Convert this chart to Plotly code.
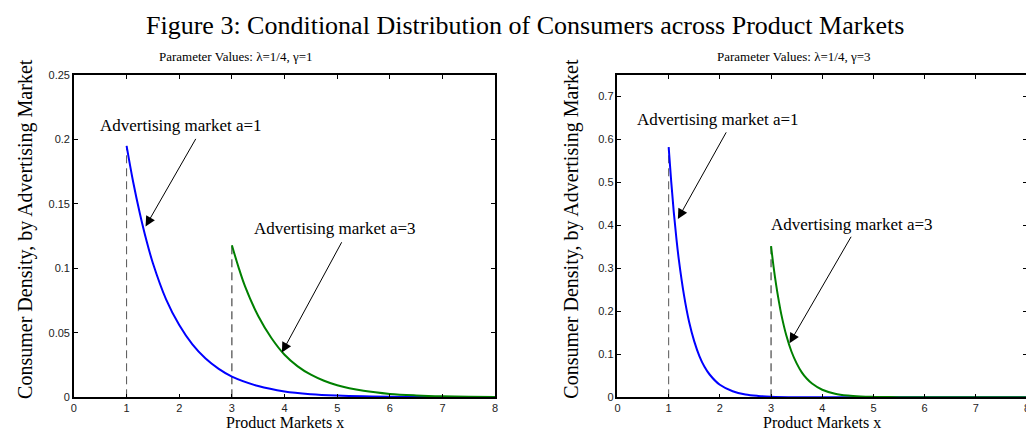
import plotly.graph_objects as go

# ---------------- data ----------------
x_ticks = [0, 1, 2, 3, 4, 5, 6, 7, 8]

# left panel: lambda=1/4, gamma=1
left_a1_x = [1, 1.125, 1.25, 1.375, 1.5, 1.75, 2, 2.25, 2.5, 2.75, 3, 3.5, 4, 4.5, 5, 5.5, 6, 7, 8]
left_a1_y = [0.195, 0.167, 0.143, 0.122, 0.104, 0.076, 0.056, 0.041, 0.030, 0.022, 0.016,
             0.0087, 0.0045, 0.0024, 0.0013, 0.0007, 0.0004, 0.0001, 0.0]
left_a3_x = [3, 3.125, 3.25, 3.5, 3.75, 4, 4.25, 4.5, 4.75, 5, 5.5, 6, 6.5, 7, 7.5, 8]
left_a3_y = [0.118, 0.101, 0.086, 0.063, 0.046, 0.033, 0.024, 0.0175, 0.0128, 0.0093,
             0.0050, 0.0026, 0.0014, 0.0007, 0.0004, 0.0002]

# right panel: lambda=1/4, gamma=3
right_a1_x = [1, 1.05, 1.1, 1.15, 1.2, 1.3, 1.4, 1.5, 1.6, 1.7, 1.8, 2, 2.25, 2.5, 2.75, 3, 3.5, 4, 5, 8]
right_a1_y = [0.582, 0.502, 0.431, 0.371, 0.319, 0.237, 0.175, 0.130, 0.096, 0.071, 0.053,
              0.029, 0.014, 0.0065, 0.0031, 0.0014, 0.0003, 0.0001, 0.0, 0.0]
right_a3_x = [3, 3.05, 3.1, 3.15, 3.2, 3.3, 3.4, 3.5, 3.6, 3.7, 3.8, 4, 4.25, 4.5, 4.75, 5, 5.5, 6, 8]
right_a3_y = [0.352, 0.303, 0.261, 0.225, 0.193, 0.143, 0.106, 0.079, 0.058, 0.043, 0.032,
              0.0175, 0.0083, 0.0039, 0.0018, 0.0009, 0.0002, 0.0, 0.0]

left_y_ticks = [0, 0.05, 0.1, 0.15, 0.2, 0.25]
left_y_text = ["0", "0.05", "0.1", "0.15", "0.2", "0.25"]
right_y_ticks = [0, 0.1, 0.2, 0.3, 0.4, 0.5, 0.6, 0.7]
right_y_text = ["0", "0.1", "0.2", "0.3", "0.4", "0.5", "0.6", "0.7"]

main_title = "Figure 3: Conditional Distribution of Consumers across Product Markets"
sub_titles = ["Parameter Values: \u03bb=1/4, \u03b3=1", "Parameter Values: \u03bb=1/4, \u03b3=3"]
x_label = "Product Markets x"
y_label = "Consumer Density, by Advertising Market"
ann_a1 = "Advertising market a=1"
ann_a3 = "Advertising market a=3"

# ---------------- figure ----------------
W, H = 1034, 441
BLUE = "#0000ff"
GREEN = "#008000"
SERIF = "Liberation Serif"

fig = go.Figure()

def curve(x, y, color, xa, ya):
    fig.add_trace(go.Scatter(x=x, y=y, mode="lines", line=dict(color=color, width=2, shape="spline"),
                             xaxis=xa, yaxis=ya, showlegend=False, hoverinfo="skip"))

def vdash(x0, ytop, color, xa, ya):
    fig.add_trace(go.Scatter(x=[x0, x0], y=[0, ytop], mode="lines",
                             line=dict(color=color, width=1, dash="8px,5px"),
                             xaxis=xa, yaxis=ya, showlegend=False, hoverinfo="skip"))

vdash(left_a1_x[0], left_a1_y[0], "#555555", "x", "y")
vdash(left_a3_x[0], left_a3_y[0], "#222222", "x", "y")
curve(left_a1_x, left_a1_y, BLUE, "x", "y")
curve(left_a3_x, left_a3_y, GREEN, "x", "y")

vdash(right_a1_x[0], right_a1_y[0], "#555555", "x2", "y2")
vdash(right_a3_x[0], right_a3_y[0], "#222222", "x2", "y2")
curve(right_a1_x, right_a1_y, BLUE, "x2", "y2")
curve(right_a3_x, right_a3_y, GREEN, "x2", "y2")

def px_x(p):
    return p / W

def px_y(p):
    return 1 - p / H

x1_dom = [px_x(63.3), px_x(487)]
x2_dom = [px_x(610), px_x(1022)]
y_dom = [px_y(394), px_y(62.7)]

axis_common = dict(showline=True, linecolor="black", linewidth=1.5, mirror="allticks",
                   ticks="inside", ticklen=4, tickwidth=1, tickcolor="black",
                   showgrid=False, zeroline=False,
                   tickfont=dict(family="Liberation Sans", size=11, color="#222222"))

fig.update_layout(
    width=W, height=H, autosize=False,
    margin=dict(l=0, r=0, t=0, b=0),
    paper_bgcolor="white", plot_bgcolor="white",
    xaxis=dict(domain=x1_dom, range=[0, 8], tickvals=x_ticks, anchor="y", **axis_common),
    yaxis=dict(domain=y_dom, range=[0, 0.25], tickvals=left_y_ticks, ticktext=left_y_text,
               anchor="x", **axis_common),
    xaxis2=dict(domain=x2_dom, range=[0, 8], tickvals=x_ticks, anchor="y2", **axis_common),
    yaxis2=dict(domain=y_dom, range=[0, 0.75], tickvals=right_y_ticks, ticktext=right_y_text,
                anchor="x2", **axis_common),
)

anns = []
# titles & labels
anns.append(dict(text=main_title, x=0.5, y=px_y(12), xref="paper", yref="paper",
                 showarrow=False, font=dict(family=SERIF, size=26, color="black"),
                 xanchor="center", yanchor="middle"))
for dom, t, sx in zip([x1_dom, x2_dom], sub_titles, [226, 788]):
    anns.append(dict(text=t, x=px_x(sx), y=px_y(44), xref="paper", yref="paper",
                     showarrow=False, font=dict(family=SERIF, size=13, color="black"),
                     xanchor="center", yanchor="middle"))
    anns.append(dict(text=x_label, x=(dom[0] + dom[1]) / 2, y=px_y(420), xref="paper", yref="paper",
                     showarrow=False, font=dict(family=SERIF, size=16, color="black"),
                     xanchor="center", yanchor="middle"))
for xp in [15, 564]:
    anns.append(dict(text=y_label, x=px_x(xp), y=px_y(221), xref="paper", yref="paper",
                     showarrow=False, textangle=-90, font=dict(family=SERIF, size=20, color="black"),
                     xanchor="center", yanchor="middle"))

# in-plot annotations: (xref, yref, text, text_xy, tail_xy, head_xy)
inplot = [
    ("x", "y", ann_a1, (2.04, 0.211), (2.33, 0.2016), (1.36, 0.1325)),
    ("x", "y", ann_a3, (4.95, 0.131), (5.10, 0.1214), (3.95, 0.0347)),
    ("x2", "y2", ann_a1, (1.96, 0.6456), (2.14, 0.620), (1.18, 0.415)),
    ("x2", "y2", ann_a3, (4.58, 0.402), (4.58, 0.377), (3.36, 0.126)),
]
for xr, yr, t, txy, tail, head in inplot:
    anns.append(dict(text=t, x=txy[0], y=txy[1], xref=xr, yref=yr, showarrow=False,
                     font=dict(family=SERIF, size=17, color="black"),
                     xanchor="center", yanchor="middle"))
    anns.append(dict(text="", x=head[0], y=head[1], xref=xr, yref=yr,
                     ax=tail[0], ay=tail[1], axref=xr, ayref=yr, showarrow=True,
                     arrowhead=2, arrowsize=2, arrowwidth=1, arrowcolor="black", standoff=0))

fig.update_layout(annotations=anns)
fig.write_html("out.html")
